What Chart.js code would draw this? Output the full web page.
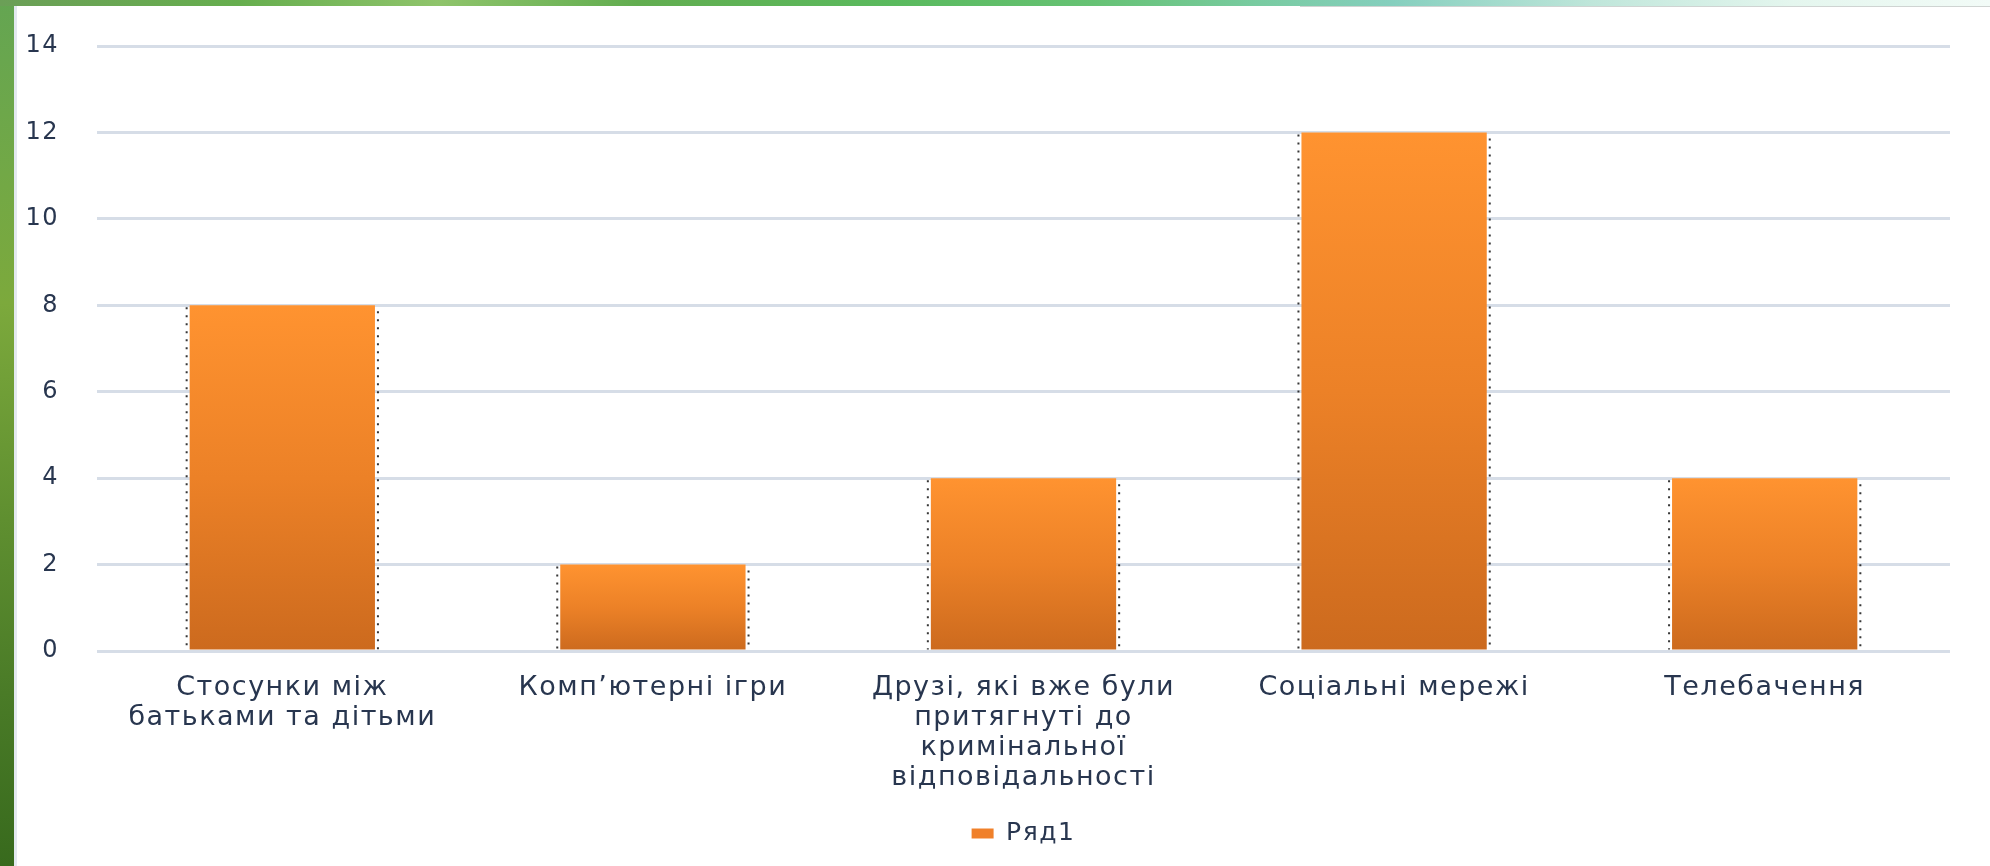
<!DOCTYPE html>
<html>
<head>
<meta charset="utf-8">
<script src="https://cdn.jsdelivr.net/npm/chart.js@4.4.1/dist/chart.umd.min.js"></script>
<style>
  html, body { margin: 0; padding: 0; width: 1990px; height: 866px; overflow: hidden; background: #ffffff; }
  #leftBar { position: absolute; left: 0; top: 0; width: 14px; height: 866px;
    background: linear-gradient(to bottom, #64a552 0%, #72a846 20%, #7ca93c 35%, #5f8f30 60%, #4a7b27 80%, #386a1d 100%); }
  #leftEdge { position: absolute; left: 14px; top: 6px; width: 3px; height: 860px; background: #e3e9f0; }
  #topBar { position: absolute; left: 0; top: 0; width: 1990px; height: 6px;
    background: linear-gradient(to right, #6b9f57 0%, #66ae4e 12%, #8fc46b 22%, #62ad50 32%, #5aba5e 45%, #66c274 55%, #78cba0 63%, #85cfbe 70%, #bfe6da 80%, #e4f6ee 90%, #f2fbf7 100%); }
  #topLine { position: absolute; left: 1300px; top: 6px; width: 690px; height: 1px; background: #cfd4d2; }
  #wrap { position: absolute; left: 0; top: 0; width: 1990px; height: 866px; }
</style>
</head>
<body>
<div id="leftBar"></div>
<div id="topBar"></div>
<div id="topLine"></div>
<div id="leftEdge"></div>
<div id="wrap"><canvas id="c" width="1990" height="866"></canvas></div>
<script>
const categories = [
  ["Стосунки між", "батьками та дітьми"],
  ["Комп’ютерні ігри"],
  ["Друзі, які вже були", "притягнуті до", "кримінальної", "відповідальності"],
  ["Соціальні мережі"],
  ["Телебачення"]
];
const seriesName = "Ряд1";
const seriesValues = [8, 2, 4, 12, 4];
const yTicks = [0, 2, 4, 6, 8, 10, 12, 14];

const textColor = "#28364f";
const gridColor = "#d6dde7";
const barTop = "#ff9330";
const barBottom = "#cc6a1e";
const LETTER_SPACING = "1.5px";

function barGradient(ctx) {
  const chart = ctx.chart;
  const ys = chart.scales && chart.scales.y;
  if (!ys || ctx.type !== "data" || !chart.chartArea) return barTop;
  const v = ctx.parsed ? ctx.parsed.y : ctx.raw;
  const top = ys.getPixelForValue(v);
  const base = ys.getPixelForValue(0);
  if (!isFinite(top) || !isFinite(base) || top === base) return barTop;
  const g = chart.ctx.createLinearGradient(0, top, 0, base);
  g.addColorStop(0, barTop);
  g.addColorStop(0.5, "#ec8127");
  g.addColorStop(1, barBottom);
  return g;
}

const spacing = {
  id: "spacing",
  beforeLayout(chart) { chart.ctx.letterSpacing = LETTER_SPACING; },
  beforeDraw(chart) { chart.ctx.letterSpacing = LETTER_SPACING; }
};

const dottedEdges = {
  id: "dottedEdges",
  afterDatasetsDraw(chart) {
    const meta = chart.getDatasetMeta(0);
    const c = chart.ctx;
    c.save();
    c.strokeStyle = "rgba(20,20,20,0.85)";
    c.lineWidth = 2;
    c.setLineDash([2, 6]);
    meta.data.forEach(el => {
      const p = el.getProps(["x", "y", "base", "width"], true);
      const l = p.x - p.width / 2 - 3;
      const r = p.x + p.width / 2 + 3;
      c.beginPath();
      c.moveTo(l, p.y + 2); c.lineTo(l, p.base);
      c.moveTo(r, p.y + 6); c.lineTo(r, p.base);
      c.stroke();
    });
    c.restore();
  }
};

new Chart(document.getElementById("c"), {
  type: "bar",
  data: {
    labels: categories,
    datasets: [{
      label: seriesName,
      data: seriesValues,
      backgroundColor: barGradient,
      borderWidth: 0,
      barPercentage: 0.5,
      categoryPercentage: 1.0
    }]
  },
  options: {
    responsive: false,
    animation: false,
    devicePixelRatio: 1,
    layout: { padding: { left: 0, right: 40, top: 20, bottom: 10 } },
    scales: {
      y: {
        min: 0, max: 14,
        afterBuildTicks: axis => { axis.ticks = yTicks.map(v => ({ value: v })); },
        afterFit: axis => { axis.width = 97; },
        border: { display: false },
        grid: { color: gridColor, lineWidth: 3, drawTicks: false },
        ticks: { color: textColor, font: { family: "DejaVu Sans", size: 24, lineHeight: "16px" }, padding: 38 }
      },
      x: {
        afterFit: axis => { axis.height -= 8; },
        border: { display: false },
        grid: { display: false, drawTicks: false },
        ticks: { color: textColor, font: { family: "DejaVu Sans", size: 27, lineHeight: "30px" }, padding: 22, maxRotation: 0, autoSkip: false }
      }
    },
    plugins: {
      legend: {
        display: true,
        position: "bottom",
        fullSize: false,
        labels: {
          color: textColor,
          font: { family: "DejaVu Sans", size: 25 },
          boxWidth: 22, boxHeight: 10,
          padding: 14,
          generateLabels: chart => [{
            text: seriesName, fillStyle: "#f0802a", strokeStyle: "#f0802a", lineWidth: 0, datasetIndex: 0, fontColor: textColor
          }]
        }
      },
      tooltip: { enabled: false }
    }
  },
  plugins: [spacing, dottedEdges]
});
</script>
</body>
</html>
